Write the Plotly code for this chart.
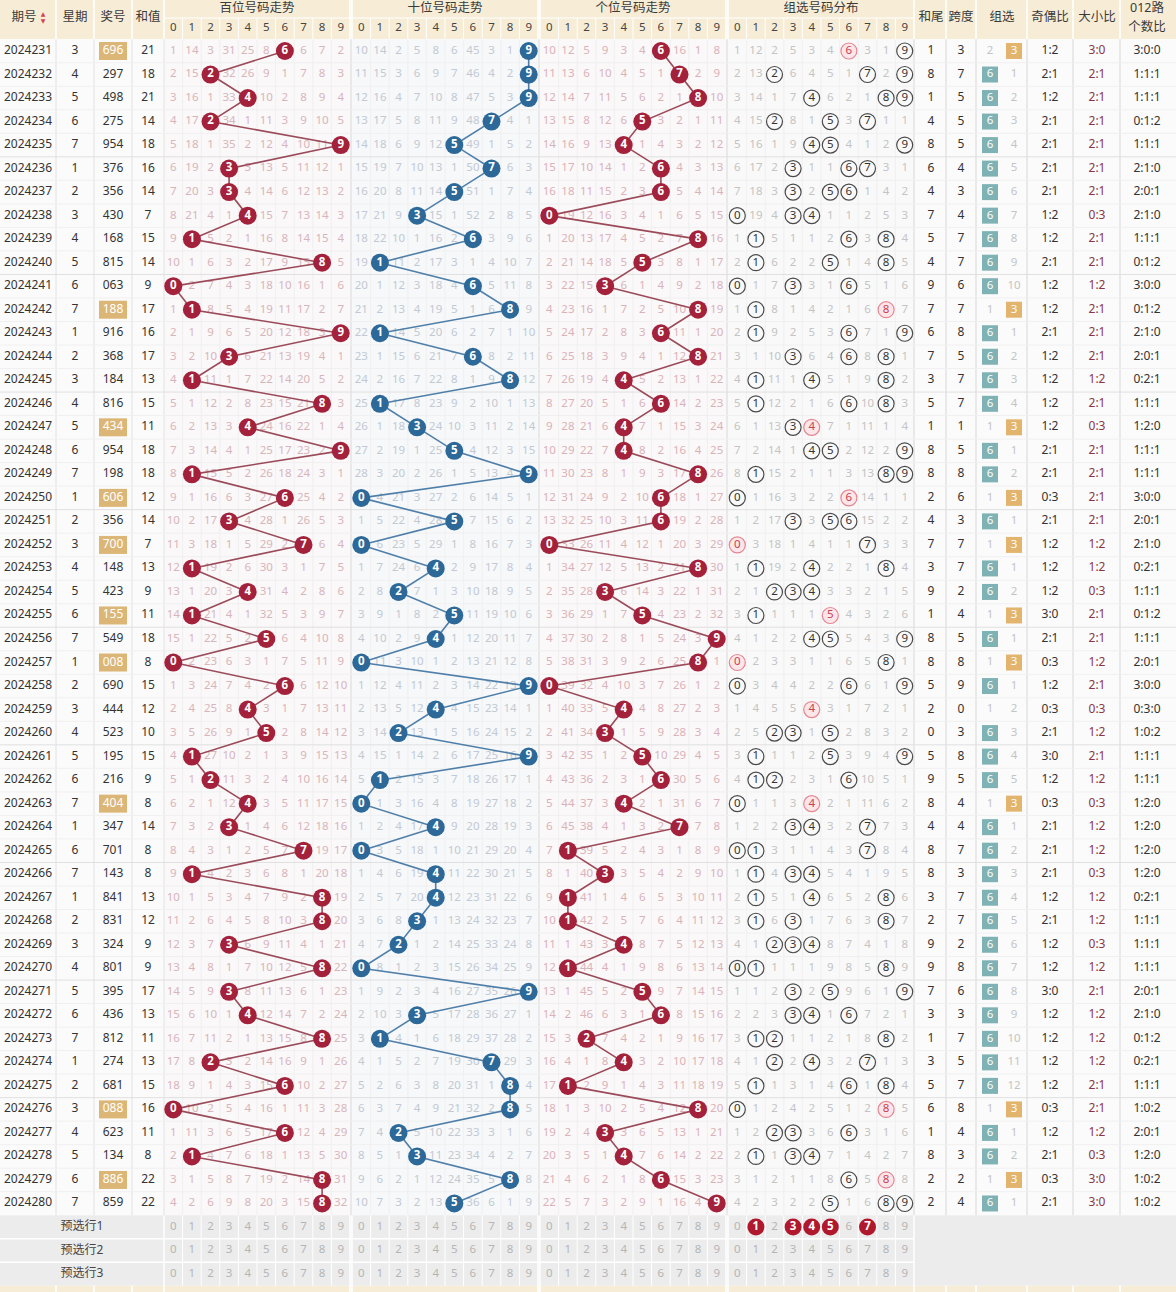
"""Lottery 3D trend table rebuilt with plotly."""
import plotly.graph_objects as go

periods = ["2024231", "2024232", "2024233", "2024234", "2024235", "2024236", "2024237",
           "2024238", "2024239", "2024240", "2024241", "2024242", "2024243", "2024244",
           "2024245", "2024246", "2024247", "2024248", "2024249", "2024250", "2024251",
           "2024252", "2024253", "2024254", "2024255", "2024256", "2024257", "2024258",
           "2024259", "2024260", "2024261", "2024262", "2024263", "2024264", "2024265",
           "2024266", "2024267", "2024268", "2024269", "2024270", "2024271", "2024272",
           "2024273", "2024274", "2024275", "2024276", "2024277", "2024278", "2024279",
           "2024280"]
weekdays = [3, 4, 5, 6, 7, 1, 2, 3, 4, 5, 6, 7, 1, 2, 3, 4, 5, 6, 7, 1, 2, 3, 4, 5, 6,
            7, 1, 2, 3, 4, 5, 6, 7, 1, 6, 7, 1, 2, 3, 4, 5, 6, 7, 1, 2, 3, 4, 5, 6, 7]
draws = ["696", "297", "498", "275", "954", "376", "356", "430", "168", "815",
         "063", "188", "916", "368", "184", "816", "434", "954", "198", "606",
         "356", "700", "148", "423", "155", "549", "008", "690", "444", "523",
         "195", "216", "404", "347", "701", "143", "841", "831", "324", "801",
         "395", "436", "812", "274", "681", "088", "623", "134", "886", "859"]
sums = [21, 18, 21, 14, 18, 16, 14, 7, 15, 14, 9, 17, 16, 17, 13, 15, 11, 18, 18, 12,
        14, 7, 13, 9, 11, 18, 8, 15, 12, 10, 15, 9, 8, 14, 8, 8, 13, 12, 9, 9,
        17, 13, 11, 13, 15, 16, 11, 8, 22, 22]

# omission counts shown on the first row (0 = hit)
bai_first = [1, 14, 3, 31, 25, 8, 0, 6, 7, 2]
shi_first = [10, 14, 2, 5, 8, 6, 45, 3, 1, 0]
ge_first = [10, 12, 5, 9, 3, 4, 0, 16, 1, 8]
grp_first = [1, 12, 2, 5, 3, 4, 0, 3, 1, 0]
zu6_first = 2
zu3_first = 0

pick_row1 = [1, 3, 4, 5, 7]
footer_labels = ["预选行1", "预选行2", "预选行3"]

FONT = "Noto Sans, Noto Sans CJK SC, sans-serif"
W, H = 1176, 1292
N = len(draws)
ROW0, ROWH = 51.0, 23.52
TOP = ROW0 - ROWH / 2
BOT = ROW0 + (N - 0.5) * ROWH
FBOT = BOT + 3 * ROWH
SPLIT = 18.0
SEC = [164, 352, 540, 728]
CELL = 18.6
bounds = [0, 56, 94, 132, 164, 914, 946, 976, 1027, 1073, 1120, 1176]
cx = dict(qh=28, xq=75, jh=113, hz=148, hw=931, kd=961, z6=990, z3=1014,
          jo=1050, dx=1097, lu=1147)


def ry(i):
    return ROW0 + i * ROWH


def sx(s, d):
    return SEC[s] + CELL / 2 + CELL * d


def omit(first, hits):
    rows = [list(first)]
    for h in hits[1:]:
        rows.append([0 if j in h else rows[-1][j] + 1 for j in range(10)])
    return rows


digits = [[int(c) for c in d] for d in draws]
bai = omit(bai_first, [{d[0]} for d in digits])
shi = omit(shi_first, [{d[1]} for d in digits])
ge = omit(ge_first, [{d[2]} for d in digits])
grp = omit(grp_first, [set(d) for d in digits])
kind = [len(set(d)) for d in digits]   # 3 = 组六, 2 = 组三, 1 = 豹子
zu6, zu3 = [zu6_first], [zu3_first]
for k in kind[1:]:
    zu6.append(0 if k == 3 else zu6[-1] + 1)
    zu3.append(0 if k == 2 else zu3[-1] + 1)

fig = go.Figure()
shapes = []


def rect(x0, y0, x1, y1, color):
    shapes.append(dict(type="rect", x0=x0, y0=y0, x1=x1, y1=y1, fillcolor=color,
                       line=dict(width=0), layer="below"))


def line(x0, y0, x1, y1, color, w=1):
    shapes.append(dict(type="line", x0=x0, y0=y0, x1=x1, y1=y1,
                       line=dict(color=color, width=w), layer="below"))


# backgrounds
rect(0, 0, W, TOP, "#f7edd7")
rect(0, TOP, W, BOT, "#fbfbfb")
rect(SEC[0], TOP, SEC[0] + 186, BOT, "#faf8f8")
rect(SEC[1], TOP, SEC[1] + 186, BOT, "#f6f8fa")
rect(SEC[2], TOP, SEC[2] + 186, BOT, "#faf8f8")
rect(SEC[3], TOP, SEC[3] + 186, BOT, "#f9f9f9")
rect(0, BOT, W, FBOT, "#ececec")
rect(0, FBOT, W, H, "#f7edd7")

# header lines
for b in bounds[1:-1] + [350, 352, 538, 540, 726, 728]:
    line(b, 0, b, TOP, "#ffffff", 1.5)
    line(b, FBOT, b, H, "#ffffff", 1.5)
line(SEC[0], SPLIT, 914, SPLIT, "#ffffff", 1.2)
for s in range(4):
    for d in range(1, 10):
        xb = SEC[s] + CELL * d
        line(xb, SPLIT, xb, TOP, "#ffffff", 1)
        line(xb, TOP, xb, BOT, "#eeeeee", 0.8)
        line(xb, BOT, xb, FBOT, "#ffffff", 1)
    line(SEC[s], BOT, SEC[s], FBOT, "#ffffff", 1.5)
    line(SEC[s] + 186, BOT, SEC[s] + 186, FBOT, "#ffffff", 1.5)
for b in bounds[1:5]:
    line(b, TOP, b, BOT, "#e2e2e2", 1)
for b in [351, 539, 727, 914] + bounds[6:-1]:
    line(b, TOP, b, BOT, "#dedede", 1.2)
for i in range(1, N):
    yb = TOP + i * ROWH
    line(0, yb, W, yb, "#e0e0e0" if i % 5 == 0 else "#f0f0f0", 1)
for i in range(1, 3):
    yb = BOT + i * ROWH
    line(0, yb, 914, yb, "#ffffff", 1.5)

# highlighted draw numbers (组三)
for i, k in enumerate(kind):
    if k == 2:
        rect(cx["jh"] - 14, ry(i) - 9, cx["jh"] + 14, ry(i) + 9, "#dcb676")

# ---- texts
tx, ty, tt, tc = [], [], [], []


def put(x, y, t, c):
    tx.append(x); ty.append(y); tt.append(str(t)); tc.append(c)


heads = [("星期", "xq"), ("奖号", "jh"), ("和值", "hz"), ("和尾", "hw"),
         ("跨度", "kd"), ("奇偶比", "jo"), ("大小比", "dx")]
hdx, hdy, hdt = [], [], []
for t, k in heads:
    hdx.append(cx[k]); hdy.append(18); hdt.append(t)
hdx += [24, 1002, cx["lu"], cx["lu"]]
hdy += [18, 18, 9, 28]
hdt += ["期号", "组选", "012路", "个数比"]
for s, t in enumerate(["百位号码走势", "十位号码走势", "个位号码走势", "组选号码分布"]):
    hdx.append(SEC[s] + 93); hdy.append(8.5); hdt.append(t)

hx, hy, ht = [], [], []
for s in range(4):
    for d in range(10):
        hx.append(sx(s, d)); hy.append(28.5); ht.append(str(d))

sec_col = ["#d8b5bb", "#c3c9d2", "#dab2b9", "#c4c4c4"]
for i in range(N):
    y = ry(i)
    put(cx["qh"], y, periods[i], "#333333")
    put(cx["xq"], y, weekdays[i], "#333333")
    put(cx["jh"], y, draws[i], "#ffffff" if kind[i] == 2 else "#333333")
    put(cx["hz"], y, sums[i], "#333333")
    dg = digits[i]
    put(cx["hw"], y, sums[i] % 10, "#333333")
    put(cx["kd"], y, max(dg) - min(dg), "#333333")
    odd = sum(v % 2 for v in dg)
    big = sum(v >= 5 for v in dg)
    put(cx["jo"], y, f"{odd}:{3 - odd}", "#333333")
    put(cx["dx"], y, f"{big}:{3 - big}", "#8a3646")
    r = [sum(v % 3 == m for v in dg) for m in range(3)]
    put(cx["lu"], y, f"{r[0]}:{r[1]}:{r[2]}", "#333333")

ox, oy, ot, oc = [], [], [], []
for i in range(N):
    y = ry(i)
    if kind[i] != 3:
        ox.append(cx["z6"]); oy.append(y); ot.append(str(zu6[i])); oc.append("#c4c4c4")
    if kind[i] != 2:
        ox.append(cx["z3"]); oy.append(y); ot.append(str(zu3[i])); oc.append("#c4c4c4")
    for s, rows in enumerate([bai, shi, ge, grp]):
        for d in range(10):
            if rows[i][d] > 0:
                ox.append(sx(s, d)); oy.append(y); ot.append(str(rows[i][d]))
                oc.append(sec_col[s])

fy = [BOT + ROWH * (k + 0.5) for k in range(3)]
for k in range(3):
    put(82, fy[k], footer_labels[k], "#444444")
    for s in range(4):
        for d in range(10):
            if not (k == 0 and s == 3 and d in pick_row1):
                ox.append(sx(s, d)); oy.append(fy[k]); ot.append(str(d)); oc.append("#b5b5b5")

fig.add_trace(go.Scatter(x=tx, y=ty, text=tt, mode="text", hoverinfo="skip",
                         textfont=dict(family=FONT, size=12, color=tc)))
fig.add_trace(go.Scatter(x=ox, y=oy, text=ot, mode="text", hoverinfo="skip",
                         textfont=dict(family=FONT, size=11.5, color=oc)))
fig.add_trace(go.Scatter(x=hdx, y=hdy, text=hdt, mode="text", hoverinfo="skip",
                         textfont=dict(family=FONT, size=12.5, color="#3a3a3a")))
fig.add_trace(go.Scatter(x=hx, y=hy, text=ht, mode="text", hoverinfo="skip",
                         textfont=dict(family=FONT, size=11.5, color="#444444")))
fig.add_trace(go.Scatter(x=[43, 43], y=[14, 21], text=["▲", "▼"], mode="text",
                         hoverinfo="skip",
                         textfont=dict(family="DejaVu Sans", size=6, color="#d3434c")))

# trend lines and balls
ball_col = ["#a3213a", "#2c6898", "#a3213a"]
line_col = ["#9b4a5a", "#4f7fa9", "#9b4a5a"]
for s in range(3):
    xs = [sx(s, d[s]) for d in digits]
    ys = [ry(i) for i in range(N)]
    fig.add_trace(go.Scatter(x=xs, y=ys, mode="lines", hoverinfo="skip",
                             line=dict(color=line_col[s], width=1.6)))
    fig.add_trace(go.Scatter(x=xs, y=ys, mode="markers+text", hoverinfo="skip",
                             text=[str(d[s]) for d in digits],
                             marker=dict(size=18, color=ball_col[s], line=dict(width=0)),
                             textfont=dict(family=FONT, size=11.5, color="#ffffff",
                                           weight="bold")))

# group distribution circles
gx, gy, gt, px_, py_, pt = [], [], [], [], [], []
for i, dg in enumerate(digits):
    for d in sorted(set(dg)):
        if dg.count(d) > 1:
            px_.append(sx(3, d)); py_.append(ry(i)); pt.append(str(d))
        else:
            gx.append(sx(3, d)); gy.append(ry(i)); gt.append(str(d))
fig.add_trace(go.Scatter(x=gx, y=gy, text=gt, mode="markers+text", hoverinfo="skip",
                         marker=dict(size=16, color="rgba(255,255,255,0)",
                                     line=dict(color="#4a4a4a", width=1.2)),
                         textfont=dict(family=FONT, size=11.5, color="#333333")))
fig.add_trace(go.Scatter(x=px_, y=py_, text=pt, mode="markers+text", hoverinfo="skip",
                         marker=dict(size=16, color="#fde6e9",
                                     line=dict(color="#e58792", width=1.2)),
                         textfont=dict(family=FONT, size=11.5, color="#c34352")))
fig.add_trace(go.Scatter(x=[sx(3, d) for d in pick_row1], y=[fy[0]] * len(pick_row1),
                         text=[str(d) for d in pick_row1], mode="markers+text",
                         hoverinfo="skip",
                         marker=dict(size=17, color="#b0182e", line=dict(width=0)),
                         textfont=dict(family=FONT, size=11.5, color="#ffffff",
                                       weight="bold")))

# 组选 boxes
b6 = [i for i in range(N) if kind[i] == 3]
b3 = [i for i in range(N) if kind[i] == 2]
fig.add_trace(go.Scatter(x=[cx["z6"]] * len(b6), y=[ry(i) for i in b6], text=["6"] * len(b6),
                         mode="markers+text", hoverinfo="skip",
                         marker=dict(symbol="square", size=16, color="#7fb2b4"),
                         textfont=dict(family=FONT, size=11.5, color="#ffffff")))
fig.add_trace(go.Scatter(x=[cx["z3"]] * len(b3), y=[ry(i) for i in b3], text=["3"] * len(b3),
                         mode="markers+text", hoverinfo="skip",
                         marker=dict(symbol="square", size=16, color="#e2b46e"),
                         textfont=dict(family=FONT, size=11.5, color="#ffffff")))

fig.update_layout(
    width=W, height=H, autosize=False, showlegend=False,
    margin=dict(l=0, r=0, t=0, b=0),
    paper_bgcolor="#ffffff", plot_bgcolor="#ffffff",
    xaxis=dict(range=[0, W], visible=False, fixedrange=True),
    yaxis=dict(range=[H, 0], visible=False, fixedrange=True),
    shapes=shapes,
    font=dict(family=FONT),
)
fig.write_html("out.html", config={"displayModeBar": False},
               post_script="document.body.style.margin='0';"
                           "document.body.style.overflow='hidden';")
